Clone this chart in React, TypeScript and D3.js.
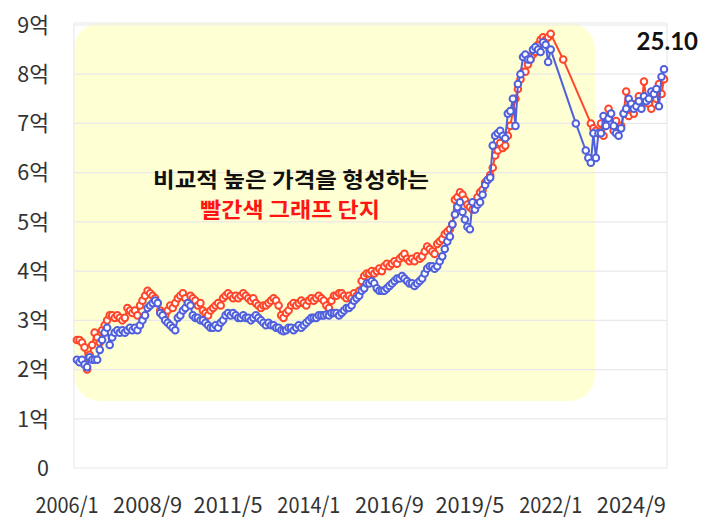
import React from 'react';
import * as d3 from 'd3';

// first month that carries a value, and the last one shown
const firstMonth = new Date(2006, 4, 1);
const axisStart = new Date(2006, 0, 1);
const axisEnd = new Date(2025, 9, 1);

const xTickLabels = ['2006/1', '2008/9', '2011/5', '2014/1', '2016/9', '2019/5', '2022/1', '2024/9'];
const yTicks = [0, 1, 2, 3, 4, 5, 6, 7, 8, 9];
const yTickLabels = ['0', '1억', '2억', '3억', '4억', '5억', '6억', '7억', '8억', '9억'];

// monthly prices in 억, starting 2006/5; null = no deal that month
const redValues: (number | null)[] = [
  2.6, 2.6, 2.55, 2.45, 2.0, 2.3, 2.5, 2.75, 2.65, 2.55,
  2.8, 2.9, 3.0, 3.1, 3.1, 3.05, 3.1, 3.05, 3.0, 3.05,
  3.25, 3.2, 3.15, 3.2, 3.1, 3.3, 3.4, 3.5, 3.6, 3.55,
  3.5, 3.45, 3.35, 3.2, 3.15, 3.1, 3.2, 3.3, 3.25, 3.35,
  3.45, 3.5, 3.55, 3.45, 3.35, 3.5, 3.45, 3.4, 3.3,
  3.35, 3.2, 3.15, 3.1, 3.2, 3.25, 3.3, 3.35, 3.3, 3.45,
  3.5, 3.55, 3.5, 3.45, 3.5, 3.45, 3.5, 3.55, 3.5, 3.45,
  3.4, 3.45, 3.35, 3.3, 3.25, 3.3, 3.3, 3.35, 3.4, 3.45,
  3.4, 3.3, 3.1, 3.05, 3.15, 3.2, 3.3, 3.35, 3.3, 3.35,
  3.4, 3.35, 3.3, 3.4, 3.45, 3.4, 3.45, 3.5, 3.45, 3.4,
  3.3, 3.25, 3.4, 3.5, 3.5, 3.55, 3.55, 3.5, 3.45,
  3.5, 3.45, 3.55, 3.5, 3.6, 3.8, 3.9, 3.95, 3.95, 4.0,
  3.95, 4.0, 4.05, 4.0, 4.1, 4.15, 4.1, 4.15, 4.2, 4.15,
  4.25, 4.3, 4.35, 4.25, 4.2, 4.25, 4.2, 4.3, 4.25, 4.3,
  4.4, 4.5, 4.45, 4.4, 4.35, 4.55, 4.6, 4.65, 4.75, 4.8,
  4.85, 4.95, 5.45, 5.5, 5.6, 5.55, 5.45, 5.35, 5.3, 5.25,
  5.4, 5.5, 5.6, 5.65, 5.8, 5.85, 5.95, 6.1, 6.35,
  6.45, 6.6, 6.5, 6.55, 6.75, 6.95, 7.25, 7.5, 7.7, 7.9,
  8.05, 8.05, 8.2, 8.3, 8.4, 8.45, 8.6, 8.7, 8.75, 8.7, 8.75, 8.82,
  null, null, null, null, 8.3,
  null, null, null, null, null, null, null, null, null, null,
  7.0, 6.9, 6.85, 6.8, 7.0, 6.75, 7.1, 7.3, 7.0, 6.85,
  7.05, 6.9, 6.95, 7.2, 7.65,
  7.15, 7.35, 7.2, 7.4, 7.55, 7.35, 7.85, 7.5, 7.4, 7.3, 7.6, 7.5, 7.8, 7.6, 7.9,
];

const blueValues: (number | null)[] = [
  2.2, 2.15, 2.2, 2.1, 2.05, 2.25, 2.2, 2.2, 2.2, 2.4,
  2.6, 2.75, 2.85, 2.5, 2.65, 2.75, 2.8, 2.75, 2.8, 2.75,
  2.8, 2.85, 2.8, 2.85, 2.8, 2.9, 3.0, 3.1, 3.25, 3.3,
  3.35, 3.4, 3.35, 3.15, 3.1, 3.0, 2.95, 2.9, 2.85, 2.8,
  3.05, 3.1, 3.2, 3.25, 3.35, 3.3, 3.1, 3.05, 3.05,
  3.0, 3.0, 2.95, 2.9, 2.85, 2.85, 2.9, 2.85, 2.95, 3.0,
  3.1, 3.15, 3.1, 3.15, 3.1, 3.05, 3.05, 3.1, 3.05, 3.05,
  3.0, 3.05, 3.1, 3.05, 3.0, 2.95, 2.9, 2.95, 2.9, 2.9,
  2.85, 2.85, 2.8, 2.78, 2.8, 2.85, 2.85, 2.8, 2.85, 2.9,
  2.85, 2.9, 2.95, 3.0, 3.05, 3.05, 3.05, 3.1, 3.1, 3.1,
  3.12, 3.1, 3.15, 3.15, 3.15, 3.1, 3.15, 3.2, 3.25,
  3.25, 3.3, 3.4, 3.45, 3.5, 3.6, 3.65, 3.75, 3.75, 3.8,
  3.75, 3.65, 3.6, 3.6, 3.6, 3.65, 3.7, 3.75, 3.8, 3.85,
  3.85, 3.9, 3.85, 3.8, 3.75, 3.75, 3.7, 3.75, 3.8, 3.85,
  3.95, 4.05, 4.1, 4.1, 4.05, 4.1, 4.2, 4.3, 4.45, 4.6,
  4.7, 4.95, 5.15, 5.3, 5.4, 5.2, 5.05, 4.9, 4.85, 5.4,
  5.25, 5.35, 5.4, 5.55, 5.75, 5.85, 5.9, 6.55, 6.75,
  6.8, 6.85, 6.75, 6.7, 7.2, 7.25, 7.5, 6.95, 7.8, 8.0,
  8.35, 8.4, 8.3, 8.3, 8.5, 8.55, 8.5, 8.45, 8.65, 8.6, 8.25, 8.5,
  null, null, null, null, null, null, null, null, null, 7.0,
  null, null, null,
  6.45, 6.3, 6.2, 6.8, 6.3, 6.8, 6.8, 7.15, 6.95, 7.1,
  7.2, 6.95, 6.8, 6.75, 6.9,
  7.2, 7.3, 7.5, 7.4, 7.3, 7.35, 7.45, 7.3, 7.55, 7.45, 7.5, 7.65, 7.6, 7.7, 7.35, 7.95, 8.1,
];

const lastLabel = '25.10';
const noteLine1 = '비교적 높은 가격을 형성하는';
const noteLine2 = '빨간색 그래프 단지';

const W = 714;
const H = 527;
const plot = { left: 74, right: 667, top: 23, bottom: 468 };
const RED = '#ff4628';
const BLUE = '#5060dc';
const KR = '"Noto Sans CJK KR", "Noto Sans", sans-serif';

type Pt = { date: Date; value: number };

const toPoints = (values: (number | null)[]): Pt[] =>
  values
    .map((v, i) => ({ date: d3.timeMonth.offset(firstMonth, i), value: v }))
    .filter((d): d is Pt => d.value !== null);

const App: React.FC = () => {
  const x = d3.scaleTime().domain([axisStart, axisEnd]).range([67, 664]);
  const y = d3.scaleLinear().domain([0, 9]).range([468, 25]);
  const parse = d3.timeParse('%Y/%m');

  const line = d3
    .line<Pt>()
    .x(d => x(d.date))
    .y(d => y(d.value));

  const series = [
    { name: 'red', color: RED, points: toPoints(redValues) },
    { name: 'blue', color: BLUE, points: toPoints(blueValues) },
  ];

  return (
    <svg width={W} height={H} style={{ position: 'absolute', left: 0, top: 0, background: '#fff' }}>
      {/* highlighted period */}
      <rect x={plot.left} y={plot.top} width={521} height={378} rx={26} fill="#ffff99" opacity={0.42} />

      {/* grid + frame */}
      <g stroke="#e9e9e9" strokeWidth={1.2}>
        {yTicks.map(t => (
          <line key={t} x1={plot.left} x2={plot.right} y1={y(t)} y2={y(t)} />
        ))}
        <line x1={plot.left} x2={plot.left} y1={plot.top} y2={plot.bottom} />
        <line x1={plot.right} x2={plot.right} y1={plot.top} y2={plot.bottom} />
        <line x1={plot.left} x2={plot.right} y1={plot.top} y2={plot.top} />
      </g>

      {/* y axis labels */}
      <g fontFamily={KR} fontSize={21.5} fill="#333" textAnchor="end">
        {yTicks.map((t, i) => (
          <text key={t} x={49} y={y(t)} dy="0.36em">
            {yTickLabels[i]}
          </text>
        ))}
      </g>

      {/* x axis labels */}
      <g fontFamily={KR} fontSize={22} fill="#333" textAnchor="middle">
        {xTickLabels.map(l => (
          <text key={l} x={x(parse(l) as Date)} y={513} textLength={l.endsWith('1') ? 63 : 69} lengthAdjust="spacingAndGlyphs">
            {l}
          </text>
        ))}
      </g>

      {/* annotation */}
      <text x={291} y={187} textAnchor="middle" fontFamily={KR} fontWeight={700} fontSize={21} fill="#111" textLength={276} lengthAdjust="spacingAndGlyphs">
        {noteLine1}
      </text>
      <text x={290} y={217} textAnchor="middle" fontFamily={KR} fontWeight={700} fontSize={21} fill="#ff1414" textLength={180} lengthAdjust="spacingAndGlyphs">
        {noteLine2}
      </text>

      {/* series */}
      {series.map(s => (
        <g key={s.name}>
          <path d={line(s.points) ?? ''} fill="none" stroke={s.color} strokeWidth={2} />
          {s.points.map((p, i) => (
            <circle
              key={i}
              cx={x(p.date)}
              cy={y(p.value)}
              r={3.3}
              fill="#fff"
              stroke={s.color}
              strokeWidth={2}
            />
          ))}
        </g>
      ))}

      <text x={698} y={50} textAnchor="end" fontFamily="Lato, sans-serif" fontWeight={700} fontSize={24} fill="#111">
        {lastLabel}
      </text>
    </svg>
  );
};

export default App;
